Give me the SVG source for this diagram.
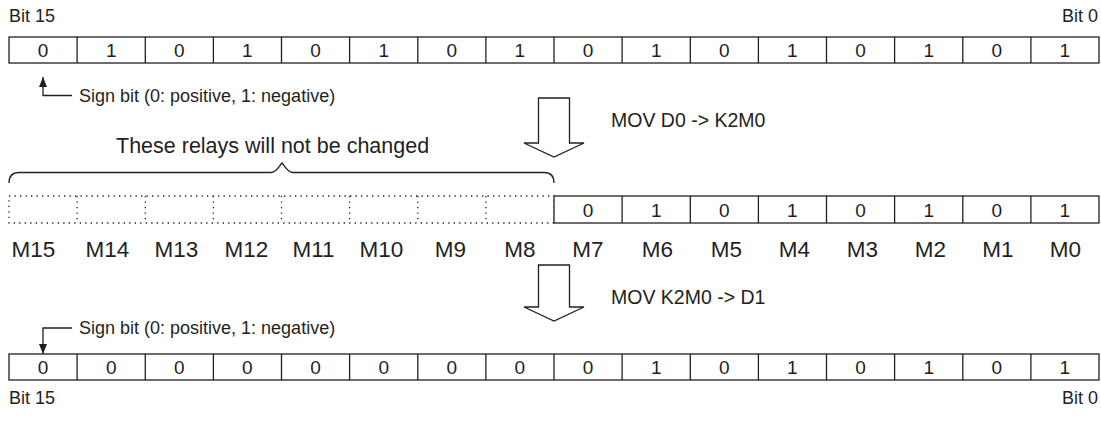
<svg xmlns="http://www.w3.org/2000/svg" width="1101" height="421" viewBox="0 0 1101 421">
<defs>
<style>
text { font-family: "Liberation Sans", Arial, Helvetica, sans-serif; fill: #231f20; }
.lbl { font-size: 18px; }
.sign { font-size: 18px; }
.mov { font-size: 19.5px; }
.note { font-size: 21.5px; }
.v { font-size: 19px; text-anchor: middle; }
.m { font-size: 22.5px; text-anchor: middle; }
.box { fill: #fff; stroke: #231f20; stroke-width: 1.3; }
.div { stroke: #231f20; stroke-width: 1.3; }
.dot { fill: none; stroke: #231f20; stroke-width: 1.3; stroke-dasharray: 1.3 4.2; }
.line { fill: none; stroke: #231f20; stroke-width: 1.3; }
.hollow { fill: #fff; stroke: #231f20; stroke-width: 1.3; stroke-linejoin: miter; }
</style>
<marker id="ah" markerUnits="userSpaceOnUse" markerWidth="10" markerHeight="10" viewBox="0 0 10 10" refX="10" refY="5" orient="auto">
<path d="M0,1 L10,5 L0,9 Z" fill="#231f20"/>
</marker>
</defs>

<!-- top register D0 -->
<g id="reg-d0">
<text class="lbl" x="9" y="22">Bit 15</text>
<text class="lbl" x="1098" y="22" text-anchor="end">Bit 0</text>
<rect class="box" x="9" y="37" width="1090" height="26"/>
<path class="div" d="M77.1,37V63 M145.3,37V63 M213.4,37V63 M281.5,37V63 M349.6,37V63 M417.8,37V63 M485.9,37V63 M554,37V63 M622.1,37V63 M690.3,37V63 M758.4,37V63 M826.5,37V63 M894.6,37V63 M962.8,37V63 M1030.9,37V63"/>
<text class="v" x="43.1" y="57">0</text>
<text class="v" x="111.2" y="57">1</text>
<text class="v" x="179.3" y="57">0</text>
<text class="v" x="247.4" y="57">1</text>
<text class="v" x="315.6" y="57">0</text>
<text class="v" x="383.7" y="57">1</text>
<text class="v" x="451.8" y="57">0</text>
<text class="v" x="519.9" y="57">1</text>
<text class="v" x="588.1" y="57">0</text>
<text class="v" x="656.2" y="57">1</text>
<text class="v" x="724.3" y="57">0</text>
<text class="v" x="792.4" y="57">1</text>
<text class="v" x="860.6" y="57">0</text>
<text class="v" x="928.7" y="57">1</text>
<text class="v" x="996.8" y="57">0</text>
<text class="v" x="1064.9" y="57">1</text>
</g>

<!-- middle relays M15..M0 -->
<g id="relays">
<rect class="dot" x="9" y="196" width="545" height="27"/>
<path class="dot" d="M77.1,196V223 M145.3,196V223 M213.4,196V223 M281.5,196V223 M349.6,196V223 M417.8,196V223 M485.9,196V223"/>
<rect class="box" x="554" y="196" width="545" height="27"/>
<path class="div" d="M622.1,196V223 M690.3,196V223 M758.4,196V223 M826.5,196V223 M894.6,196V223 M962.8,196V223 M1030.9,196V223"/>
<text class="v" x="588.1" y="216.5">0</text>
<text class="v" x="656.2" y="216.5">1</text>
<text class="v" x="724.3" y="216.5">0</text>
<text class="v" x="792.4" y="216.5">1</text>
<text class="v" x="860.6" y="216.5">0</text>
<text class="v" x="928.7" y="216.5">1</text>
<text class="v" x="996.8" y="216.5">0</text>
<text class="v" x="1064.9" y="216.5">1</text>
<text class="m" x="33.5" y="257">M15</text>
<text class="m" x="107.5" y="257">M14</text>
<text class="m" x="176.5" y="257">M13</text>
<text class="m" x="246.5" y="257">M12</text>
<text class="m" x="313.5" y="257">M11</text>
<text class="m" x="381.5" y="257">M10</text>
<text class="m" x="450.5" y="257">M9</text>
<text class="m" x="520" y="257">M8</text>
<text class="m" x="588" y="257">M7</text>
<text class="m" x="657.5" y="257">M6</text>
<text class="m" x="726.5" y="257">M5</text>
<text class="m" x="794.5" y="257">M4</text>
<text class="m" x="862.5" y="257">M3</text>
<text class="m" x="930.5" y="257">M2</text>
<text class="m" x="998" y="257">M1</text>
<text class="m" x="1065.5" y="257">M0</text>
</g>

<!-- bottom register D1 -->
<g id="reg-d1">
<rect class="box" x="9" y="354" width="1090" height="26"/>
<path class="div" d="M77.1,354V380 M145.3,354V380 M213.4,354V380 M281.5,354V380 M349.6,354V380 M417.8,354V380 M485.9,354V380 M554,354V380 M622.1,354V380 M690.3,354V380 M758.4,354V380 M826.5,354V380 M894.6,354V380 M962.8,354V380 M1030.9,354V380"/>
<text class="v" x="43.1" y="374">0</text>
<text class="v" x="111.2" y="374">0</text>
<text class="v" x="179.3" y="374">0</text>
<text class="v" x="247.4" y="374">0</text>
<text class="v" x="315.6" y="374">0</text>
<text class="v" x="383.7" y="374">0</text>
<text class="v" x="451.8" y="374">0</text>
<text class="v" x="519.9" y="374">0</text>
<text class="v" x="588.1" y="374">0</text>
<text class="v" x="656.2" y="374">1</text>
<text class="v" x="724.3" y="374">0</text>
<text class="v" x="792.4" y="374">1</text>
<text class="v" x="860.6" y="374">0</text>
<text class="v" x="928.7" y="374">1</text>
<text class="v" x="996.8" y="374">0</text>
<text class="v" x="1064.9" y="374">1</text>
<text class="lbl" x="9" y="404">Bit 15</text>
<text class="lbl" x="1098" y="404" text-anchor="end">Bit 0</text>
</g>

<!-- brace and note -->
<g id="note">
<path class="line" d="M9,183 Q9,172.5 19,172.5 L271,172.5 C277,172.5 279,166 282,163 C285,166 287,172.5 293,172.5 L544,172.5 Q554,172.5 554,183"/>
<text class="note" x="116" y="152.5">These relays will not be changed</text>
</g>

<!-- connectors -->
<g id="connectors">
<polyline class="line" points="72,95.5 43,95.5 43,77" marker-end="url(#ah)"/>
<text class="sign" x="79" y="101.5">Sign bit (0: positive, 1: negative)</text>
<polyline class="line" points="72,328 43,328 43,354" marker-end="url(#ah)"/>
<text class="sign" x="79" y="334">Sign bit (0: positive, 1: negative)</text>
<polygon class="hollow" points="538.5,98 569.5,98 569.5,143 584,143 554,157 524,143 538.5,143"/>
<text class="mov" x="611" y="127">MOV D0 -&gt; K2M0</text>
<polygon class="hollow" points="538.5,265 569.5,265 569.5,307 584,307 554,321 524,307 538.5,307"/>
<text class="mov" x="611" y="304">MOV K2M0 -&gt; D1</text>
</g>
</svg>
